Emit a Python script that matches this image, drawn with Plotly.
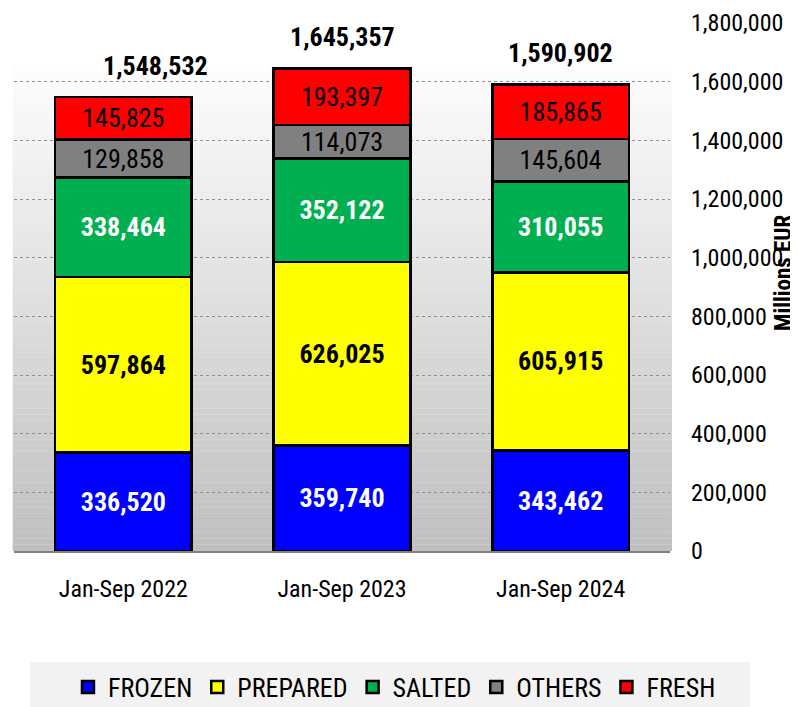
import plotly.graph_objects as go

categories = ["Jan-Sep 2022", "Jan-Sep 2023", "Jan-Sep 2024"]
frozen = [336520, 359740, 343462]
prepared = [597864, 626025, 605915]
salted = [338464, 352122, 310055]
others = [129858, 114073, 145604]
fresh = [145825, 193397, 185865]
totals = [1548532, 1645357, 1590902]
tick_vals = [0, 200000, 400000, 600000, 800000, 1000000, 1200000, 1400000, 1600000, 1800000]

FONT = "Liberation Sans Narrow, Arial Narrow, Roboto Condensed, sans-serif"

series = [
    ("FROZEN", frozen, "#0000ff", "white", True),
    ("PREPARED", prepared, "#ffff00", "black", True),
    ("SALTED", salted, "#00b050", "white", True),
    ("OTHERS", others, "#808080", "black", False),
    ("FRESH", fresh, "#ff0000", "black", False),
]

fig = go.Figure()
for name, vals, color, tcol, bold in series:
    txt = [f"{v:,}" for v in vals]
    if bold:
        txt = [f"<b>{t}</b>" for t in txt]
    fig.add_trace(go.Bar(
        name=name, x=categories, y=vals, text=txt,
        textposition="inside", insidetextanchor="middle", constraintext="none",
        textfont=dict(family=FONT, size=26, color=tcol),
        marker=dict(color=color, line=dict(color="black", width=2.5)),
        width=0.625, hoverinfo="skip",
    ))

# gradient background (plot area)
n = 80
top_p = 0.939
for i in range(n):
    y0 = top_p * i / n
    y1 = top_p * (i + 1) / n
    frac = (i + 0.5) / n
    c = int(round(191 + (255 - 191) * frac))
    fig.add_shape(type="rect", xref="paper", yref="paper", x0=-0.002, x1=1.003,
                  y0=y0, y1=y1 + 0.0005, fillcolor=f"rgb({c},{c},{c})",
                  line=dict(width=0), layer="below")

# legend background box
fig.add_shape(type="rect", xref="paper", yref="paper", x0=0.0244, x1=1.122,
              y0=-0.30, y1=-0.2102, fillcolor="#f2f2f2", line=dict(width=0), layer="below")

shifts = [32, 0, 0]
for cat, tot, xs in zip(categories, totals, shifts):
    fig.add_annotation(x=cat, y=tot, text=f"<b>{tot:,}</b>", showarrow=False,
                       xshift=xs, yshift=31, font=dict(family=FONT, size=26, color="black"))

fig.add_annotation(xref="paper", yref="paper", x=1.172, y=0.528, xanchor="center",
                   yanchor="middle", text="<b>Millions EUR</b>",
                   textangle=-90, showarrow=False, font=dict(family=FONT, size=23, color="black"))

fig.update_layout(
    barmode="stack",
    width=790, height=699,
    margin=dict(l=6, r=128, t=15, b=156, autoexpand=False),
    paper_bgcolor="white", plot_bgcolor="rgba(0,0,0,0)",
    font=dict(family=FONT, size=22, color="black"),
    showlegend=True,
    legend=dict(orientation="h", x=0.58, xanchor="center", y=-0.2576, yanchor="middle",
                bgcolor="rgba(0,0,0,0)", font=dict(family=FONT, size=26, color="black"),
                traceorder="normal"),
    xaxis=dict(showline=True, linecolor="#808080", linewidth=1.5, ticks="",
               ticklabelstandoff=15, range=[-0.5, 2.5], automargin=False,
               tickfont=dict(family=FONT, size=24)),
    yaxis=dict(side="right", range=[0, 1800000], tickvals=tick_vals,
               tickformat=",", showgrid=True, gridcolor="#909090", griddash="3px,3px",
               gridwidth=1, zeroline=False, showline=False, ticks="", automargin=False,
               ticklabelstandoff=20, tickfont=dict(family=FONT, size=24)),
)

fig.write_html("out.html")
